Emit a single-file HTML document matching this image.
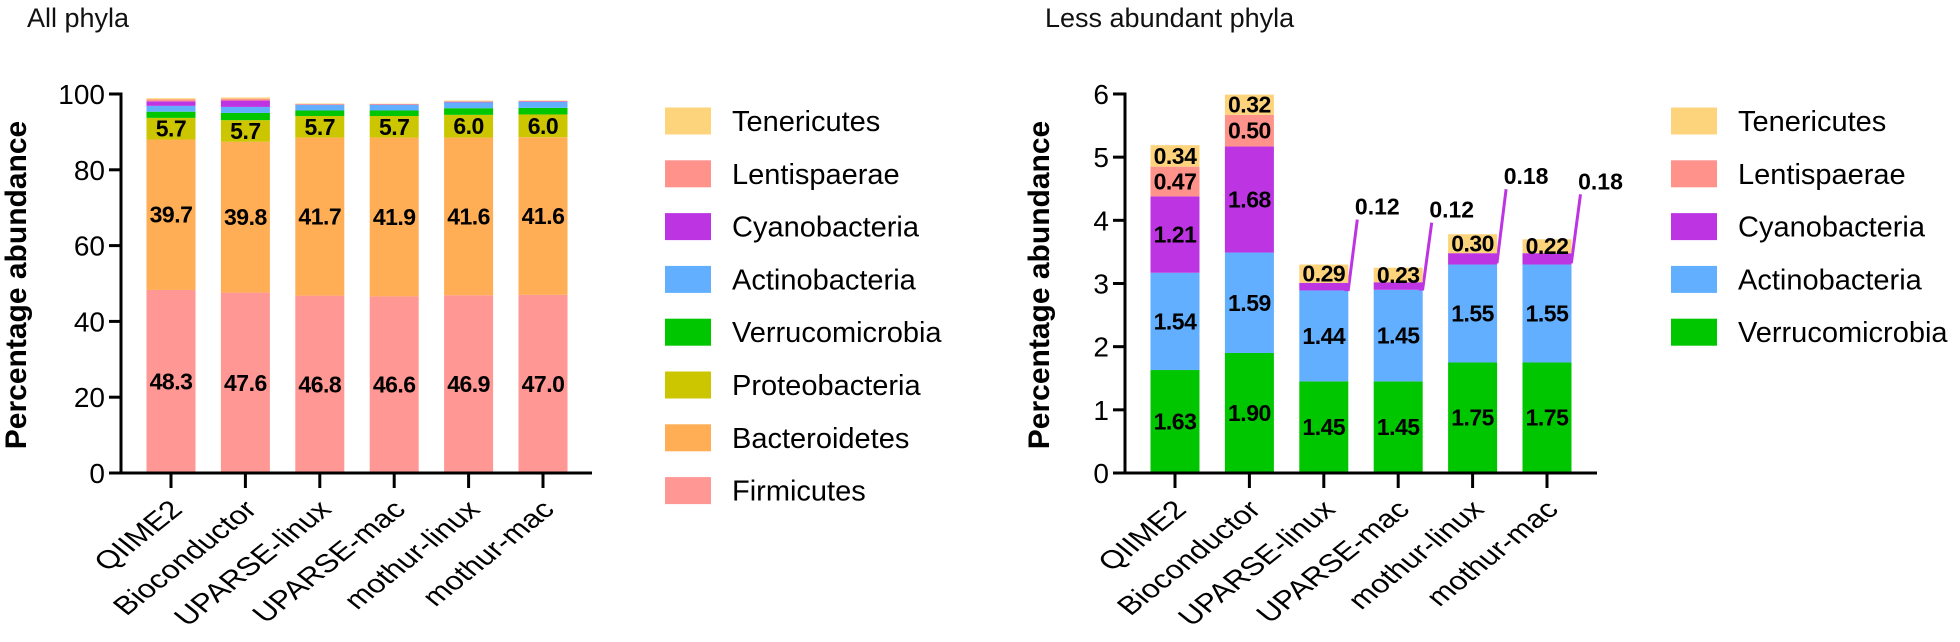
<!DOCTYPE html>
<html><head><meta charset="utf-8">
<style>
html,body{margin:0;padding:0;background:#fff;width:1960px;height:642px;overflow:hidden}
svg text{font-family:"Liberation Sans",Arial,sans-serif}
</style></head>
<body>
<svg id="c" width="1960" height="642" viewBox="0 0 1960 642" xmlns="http://www.w3.org/2000/svg"></svg>
<script>
const categories = ["QIIME2","Bioconductor","UPARSE-linux","UPARSE-mac","mothur-linux","mothur-mac"];
const firmicutes = [48.3,47.6,46.8,46.6,46.9,47.0];
const bacteroidetes = [39.7,39.8,41.7,41.9,41.6,41.6];
const proteobacteria = [5.7,5.7,5.7,5.7,6.0,6.0];
const verrucomicrobia = [1.63,1.90,1.45,1.45,1.75,1.75];
const actinobacteria = [1.54,1.59,1.44,1.45,1.55,1.55];
const cyanobacteria = [1.21,1.68,0.12,0.12,0.18,0.18];
const lentisphaerae = [0.47,0.50,0,0,0,0];
const tenericutes = [0.34,0.32,0.29,0.23,0.30,0.22];
const leftTicks = [0,20,40,60,80,100];
const rightTicks = [0,1,2,3,4,5,6];

const NS="http://www.w3.org/2000/svg";
const svg=document.getElementById('c');
function mk(tag,attrs,parent,text){const e=document.createElementNS(NS,tag);for(const k in attrs)e.setAttribute(k,attrs[k]);if(text!==undefined)e.textContent=text;(parent||svg).appendChild(e);return e;}

const COL={ten:"#FDD47C",len:"#FF928B",cya:"#BD35E3",act:"#62AFFF",ver:"#00C600",pro:"#CCC600",bac:"#FFAE55",fir:"#FF9794"};

function chart(opt){
  const g=mk('g',{});
  
  
  const y0=473, ppu=opt.ppu;
  const ys=v=>y0-v*ppu;
  const xs=i=>opt.x0+i*74.4;
  const bw=49;
  const t=mk('text',{x:opt.titleX,y:27,'font-size':27,fill:'#111'},g,opt.title);
  
  const yt=mk('text',{x:0,y:0,'font-size':30,'font-weight':'bold','text-anchor':'middle',transform:`translate(${opt.ytX},285) rotate(-90)`},g,'Percentage abundance');
  
  categories.forEach((c,i)=>{
    let cum=0;
    opt.series.forEach(s=>{
      const v=s.vals[i];
      if(v<=0)return;
      const r=mk('rect',{x:xs(i)-bw/2,y:ys(cum+v),width:bw,height:v*ppu,fill:s.col},g);
      
      
      if(s.label){
        const fmt=s.fmt(v);
        if(s.leader && v<0.25){
          const top=opt.series.reduce((a,q)=>a+q.vals[i],0);
          const ly=ys(top)-58;
          const ln=mk('polyline',{points:`${xs(i)+bw/2-4},${ys(cum+v/2)+3} ${xs(i)+bw/2},${ys(cum+v/2)+3} ${xs(i)+bw/2+9},${ly+13}`,fill:'none',stroke:COL.cya,'stroke-width':3},g);
          
          const tl=mk('text',{x:xs(i)+bw/2+29,y:ly+8,'font-size':23,'font-weight':'bold','text-anchor':'middle'},g,fmt);
          
        } else {
          const tl=mk('text',{x:xs(i),y:ys(cum+v/2)+8,'font-size':23,'font-weight':'bold','text-anchor':'middle','letter-spacing':'-0.5'},g,fmt);
          
        }
      }
      cum+=v;
    });
    const tk=mk('line',{x1:xs(i),x2:xs(i),y1:y0,y2:488,stroke:'#000','stroke-width':3},g);
    
    const xl=mk('text',{x:0,y:0,'font-size':32,'text-anchor':'end',transform:`translate(${xs(i)+13},511) scale(1,0.8) rotate(-45)`},g,c);
    
  });
  const ya=mk('line',{x1:opt.axisX,x2:opt.axisX,y1:ys(opt.ticks[opt.ticks.length-1])-1.5,y2:y0+1.5,stroke:'#000','stroke-width':3},g);
  
  const xa=mk('line',{x1:opt.axisX,x2:opt.axisEnd,y1:y0,y2:y0,stroke:'#000','stroke-width':3},g);
  
  opt.ticks.forEach(v=>{
    const l=mk('line',{x1:opt.axisX-12,x2:opt.axisX,y1:ys(v),y2:ys(v),stroke:'#000','stroke-width':3},g);
    
    const tl=mk('text',{x:opt.axisX-16,y:ys(v)+10,'font-size':28,'text-anchor':'end'},g,String(v));
    
  });
  const lg=mk('g',{},g);
  
  opt.legend.forEach((s,k)=>{
    const cy=121+k*52.8;
    const r=mk('rect',{x:opt.legX,y:cy-13.5,width:46,height:27,fill:s.col},lg);
    
    const tl=mk('text',{x:opt.legX+67,y:cy+10,'font-size':29},lg,s.name);
    
  });
}

const f1=v=>v.toFixed(1), f2=v=>v.toFixed(2);
chart({name:'all-phyla-chart',title:'All phyla',titleX:27,ytX:26,ppu:3.79,x0:171,axisX:121,axisEnd:592,ticks:leftTicks,legX:665,
  series:[
    {key:'firmicutes',vals:firmicutes,col:COL.fir,label:true,fmt:f1},
    {key:'bacteroidetes',vals:bacteroidetes,col:COL.bac,label:true,fmt:f1},
    {key:'proteobacteria',vals:proteobacteria,col:COL.pro,label:true,fmt:f1},
    {key:'verrucomicrobia',vals:verrucomicrobia,col:COL.ver},
    {key:'actinobacteria',vals:actinobacteria,col:COL.act},
    {key:'cyanobacteria',vals:cyanobacteria,col:COL.cya},
    {key:'lentisphaerae',vals:lentisphaerae,col:COL.len},
    {key:'tenericutes',vals:tenericutes,col:COL.ten}],
  legend:[{name:'Tenericutes',col:COL.ten},{name:'Lentispaerae',col:COL.len},{name:'Cyanobacteria',col:COL.cya},{name:'Actinobacteria',col:COL.act},{name:'Verrucomicrobia',col:COL.ver},{name:'Proteobacteria',col:COL.pro},{name:'Bacteroidetes',col:COL.bac},{name:'Firmicutes',col:COL.fir}]
});
chart({name:'less-abundant-phyla-chart',title:'Less abundant phyla',titleX:1045,ytX:1049,ppu:63.17,x0:1175,axisX:1125,axisEnd:1597,ticks:rightTicks,legX:1671,
  series:[
    {key:'verrucomicrobia',vals:verrucomicrobia,col:COL.ver,label:true,fmt:f2},
    {key:'actinobacteria',vals:actinobacteria,col:COL.act,label:true,fmt:f2},
    {key:'cyanobacteria',vals:cyanobacteria,col:COL.cya,label:true,fmt:f2,leader:true},
    {key:'lentisphaerae',vals:lentisphaerae,col:COL.len,label:true,fmt:f2},
    {key:'tenericutes',vals:tenericutes,col:COL.ten,label:true,fmt:f2}],
  legend:[{name:'Tenericutes',col:COL.ten},{name:'Lentispaerae',col:COL.len},{name:'Cyanobacteria',col:COL.cya},{name:'Actinobacteria',col:COL.act},{name:'Verrucomicrobia',col:COL.ver}]
});
</script>
</body></html>
